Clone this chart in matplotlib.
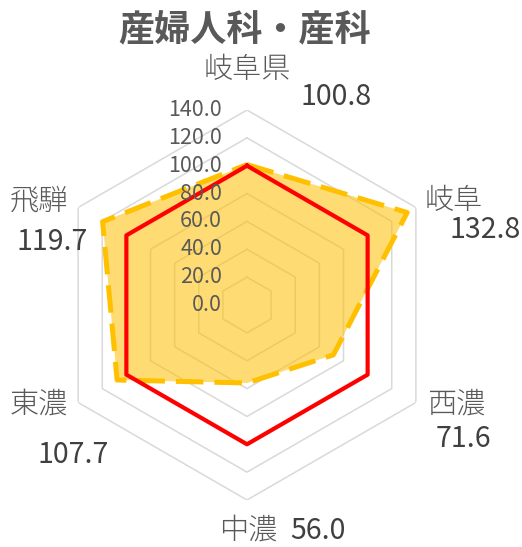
import numpy as np
import matplotlib
matplotlib.use("Agg")
import matplotlib.pyplot as plt
from matplotlib.transforms import offset_copy

plt.rcParams['font.family'] = ['Noto Sans CJK JP', 'DejaVu Sans']

# ─── DATA ─────────────────────────────────────────────────────────
title      = "産婦人科・産科"
categories = ["岐阜県", "岐阜", "西濃", "中濃", "東濃", "飛騨"]
values     = [100.8, 132.8, 71.6, 56.0, 107.7, 119.7]
reference  = [100, 100, 100, 100, 100, 100]
levels     = [0, 20, 40, 60, 80, 100, 120, 140]

# ─── LAYOUT (pixel centres of the outer labels) ──────────────────
W, H = 522, 547
label_xy = [(247, 70), (454, 201), (456, 404), (248, 530), (39, 404), (39, 201)]
value_xy = [(336, 97), (485, 230), (463, 439), (318, 531), (73, 455), (52, 242)]

GRAY  = "#595959"
DARK  = "#404040"
GOLD  = "#FFC000"

fig = plt.figure(figsize=(W / 100, H / 100), dpi=100)
cx, cy, rad = 247, 305, 195
ax = fig.add_axes([(cx - rad) / W, (H - cy - rad) / H, 2 * rad / W, 2 * rad / H],
                  projection='polar')
ax.set_theta_zero_location('N')
ax.set_theta_direction(-1)
ax.set_ylim(0, 140)
ax.grid(False)
ax.spines['polar'].set_visible(False)
ax.set_xticks([])
ax.set_yticks([])
ax.patch.set_alpha(0)

theta = np.linspace(0, 2 * np.pi, len(categories), endpoint=False)
theta_c = np.append(theta, theta[0])

# hexagon grid
for lv in levels[1:]:
    ax.plot(theta_c, [lv] * len(theta_c), color="#D9D9D9", lw=1.1, zorder=1)

vals_c = np.append(values, values[0])
ref_c = np.append(reference, reference[0])

ax.fill(theta_c, vals_c, color=GOLD, alpha=0.55, lw=0, zorder=2)
dash, = ax.plot(theta_c, vals_c, color=GOLD, lw=3.6, zorder=3)
dash.set_dashes([5.5, 2.2])
ax.plot(theta_c, ref_c, color="#FF0000", lw=3, zorder=4)

# radial tick labels
tr = offset_copy(ax.transData, fig=fig, x=-25, y=0, units='dots')
for lv in levels:
    ax.text(0, lv, f"{lv:.1f}", transform=tr, ha='right', va='center',
            fontsize=15.5, color=GRAY, zorder=5)

# category + value labels
for name, v, (lx, ly), (vx, vy) in zip(categories, values, label_xy, value_xy):
    fig.text(lx / W, 1 - ly / H, name, ha='center', va='center',
             fontsize=21, fontweight='light', color=GRAY)
    fig.text(vx / W, 1 - vy / H, f"{v:.1f}", ha='center', va='center',
             fontsize=20.5, color=DARK)

fig.text(245 / W, 1 - 30 / H, title, ha='center', va='center',
         fontsize=26, fontweight='bold', color=GRAY)

fig.savefig("out.png", dpi=100)
